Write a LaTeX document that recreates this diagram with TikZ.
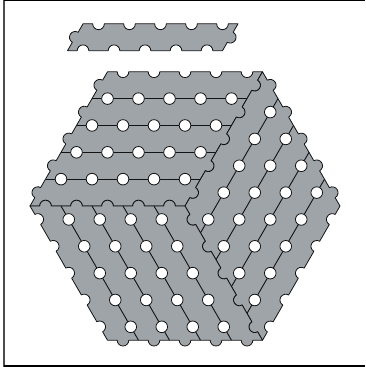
\documentclass[tikz,border=0pt]{standalone}
\usepackage{xcolor}
\usepackage{tikz}
\usetikzlibrary{calc}
\definecolor{TInk}{HTML}{111315}
\definecolor{TGray}{HTML}{9FA4A8}
\definecolor{TFrame}{HTML}{4A4C4E}
\def\bumps#1#2#3{foreach \k in {1,...,#1} {-- ++(#2:9.7) arc[start angle=#2+180,delta angle=#3,radius=5.8] -- ++(#2:9.7)}}

\begin{document}
\begin{tikzpicture}[
  x=1pt, y=1pt,
  tile/.style ={draw=TInk, fill=TGray, line width=0.8pt, line join=round},
  seam/.style ={draw=TInk, line width=0.9pt},
  hole/.style ={draw=TInk, fill=white, line width=0.8pt},
  frame/.style={draw=TFrame, line width=1.5pt},
]
\useasboundingbox (0,0) rectangle (365,367);
\draw[frame] (3.9,0) -- (3.9,367);
\draw[frame,draw=black,line width=1pt] (3.9,366.6) -- (365,366.6);
\draw[frame,draw=black] (3.9,1.2) -- (365,1.2);
% loose strip
\coordinate (strip) at (67.5,316.3);
\draw[tile] (strip) \bumps{1}{60}{-180} \bumps{5}{0}{180} \bumps{1}{240}{-180} \bumps{5}{180}{180} -- cycle;
% three lozenges: corner, end direction, side direction
\coordinate (lefttip) at (30,161);
\coordinate (toptip) at (262.5,295.2);
\foreach \from/\ashort/\along/\first/\second in {
  lefttip/60/0/60/0,
  toptip/-60/240/-60/240,
  lefttip/0/-60/0/-60} {
  \draw[tile] (\from) \bumps{5}{\first}{-180} \bumps{5}{\second}{180}
    \bumps{5}{\first+180}{-180} \bumps{5}{\second+180}{180} -- cycle;
  \foreach \r in {1,...,4} {
    \draw[seam] ($(\from)+(\ashort:\r*31)$) -- ++(\along:155);
    \foreach \h in {0,...,4}
      \draw[hole] ($(\from)+(\ashort:\r*31)+(\along:\h*31+15.5)$) circle[radius=5.8];
  }
}
\end{tikzpicture}
\end{document}
